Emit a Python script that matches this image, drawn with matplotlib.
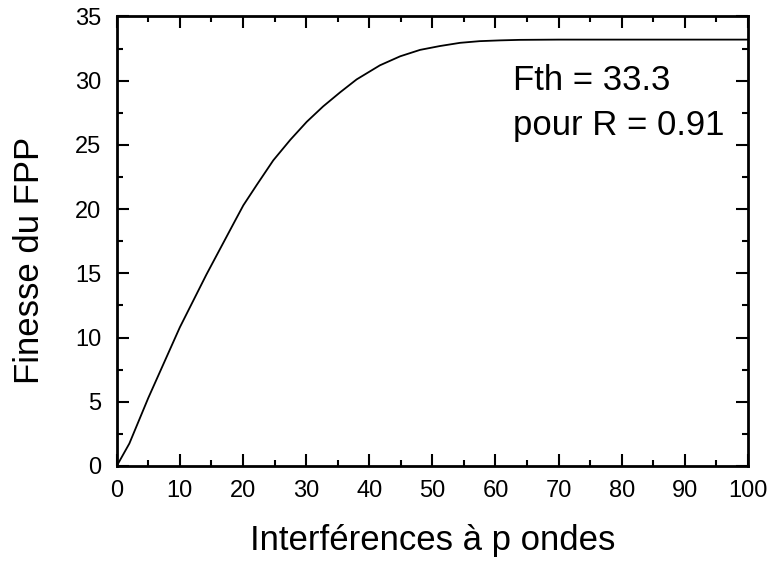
import matplotlib
matplotlib.use('Agg')
import matplotlib.pyplot as plt
from matplotlib.ticker import MultipleLocator

plt.rcParams['font.family'] = ['Liberation Sans', 'DejaVu Sans']

# values
p_values = [0, 2, 5, 10, 14.2, 18.75, 20.06, 22.2, 24.8, 27.5, 30.1, 32.7, 35.4,
            38.0, 41.7, 44.9, 48.05, 51.2, 54.4, 57.5, 60.7, 63.8, 70, 80, 90, 100]
finesse = [0, 1.75, 5.3, 10.8, 14.9, 19.1, 20.3, 21.9, 23.8, 25.4, 26.8, 28.0, 29.1,
           30.1, 31.2, 31.9, 32.4, 32.7, 32.95, 33.08, 33.14, 33.18, 33.2, 33.2, 33.2, 33.2]

annot_lines = ['Fth = 33.3', 'pour R = 0.91']

fig = plt.figure(figsize=(7.7, 5.63), dpi=100)
ax = fig.add_axes([0.1516, 0.1723, 0.8198, 0.7984])

ax.plot(p_values, finesse, color='black', lw=1.3)

ax.set_xlim(0, 100)
ax.set_ylim(0, 35)
ax.xaxis.set_major_locator(MultipleLocator(10))
ax.xaxis.set_minor_locator(MultipleLocator(5))
ax.yaxis.set_major_locator(MultipleLocator(5))
ax.yaxis.set_minor_locator(MultipleLocator(2.5))

ax.tick_params(which='both', direction='in', top=True, right=True, width=1.5)
ax.tick_params(which='major', length=8.5, labelsize=17)
ax.tick_params(which='minor', length=4)
ax.tick_params(axis='x', which='major', pad=10)
ax.tick_params(axis='y', which='major', pad=11)
for s in ax.spines.values():
    s.set_linewidth(2)

ax.set_xlabel('Interférences à p ondes', fontsize=25, labelpad=16)
ax.set_ylabel('Finesse du FPP', fontsize=25)
ax.yaxis.set_label_coords(-0.112, 0.458)

ax.text(62.8, 29.28, annot_lines[0], fontsize=25, va='baseline', ha='left')
ax.text(62.7, 25.74, annot_lines[1], fontsize=25, va='baseline', ha='left')

fig.savefig('out.png', dpi=100)
